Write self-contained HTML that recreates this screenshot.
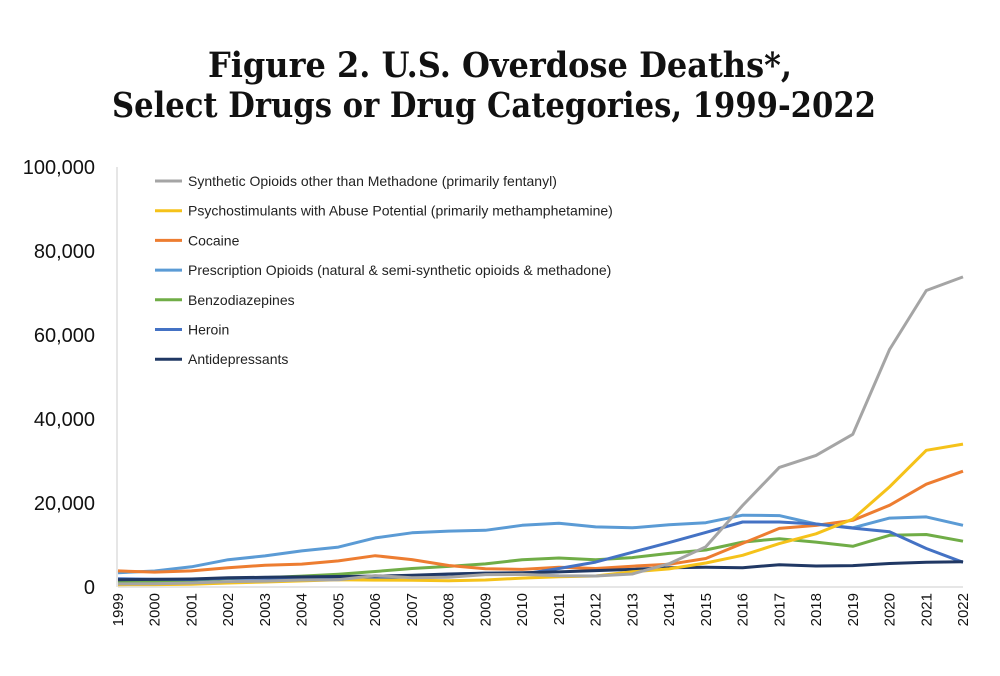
<!DOCTYPE html>
<html><head><meta charset="utf-8"><style>body{margin:0;background:#fff}svg{display:block}</style></head>
<body>
<svg id="chart" width="1000" height="676" viewBox="0 0 1000 676" xmlns="http://www.w3.org/2000/svg">
<text x="500" y="77" text-anchor="middle" font-family="DejaVu Serif, Liberation Serif, serif" font-weight="bold" font-size="35" textLength="584" lengthAdjust="spacingAndGlyphs" fill="#111">Figure 2. U.S. Overdose Deaths*,</text>
<text x="494" y="117" text-anchor="middle" font-family="DejaVu Serif, Liberation Serif, serif" font-weight="bold" font-size="35" textLength="764" lengthAdjust="spacingAndGlyphs" fill="#111">Select Drugs or Drug Categories, 1999-2022</text>
<g id="axes"></g><g id="lines"></g><g id="legend"></g>
</svg>
<script>
const years=[1999,2000,2001,2002,2003,2004,2005,2006,2007,2008,2009,2010,2011,2012,2013,2014,2015,2016,2017,2018,2019,2020,2021,2022];
const yTicks=[0,20000,40000,60000,80000,100000];
const synthetic=[730,782,957,1295,1400,1664,1742,2707,2213,2306,2946,3007,2666,2628,3105,5544,9580,19413,28466,31335,36359,56516,70601,73838];
const psycho=[547,578,637,946,1197,1451,1732,1645,1604,1476,1665,2112,2420,2628,3627,4298,5716,7542,10333,12676,16167,23837,32537,34022];
const cocaine=[3822,3544,3833,4599,5199,5443,6208,7448,6512,5129,4350,4183,4681,4404,4944,5415,6784,10375,13942,14666,15883,19447,24486,27569];
const rxOpioids=[3400,3800,4800,6500,7400,8600,9500,11700,12900,13300,13500,14700,15200,14300,14100,14800,15300,17100,17000,15000,14100,16400,16700,14700];
const benzo=[1135,1298,1594,2004,2248,2585,3052,3700,4400,4900,5500,6500,6900,6500,7000,8000,8800,10700,11500,10700,9700,12300,12500,10900];
const heroin=[1960,1842,1779,2089,2080,1878,2009,2088,2399,3041,3278,3036,4397,5925,8257,10574,12989,15469,15482,14996,14019,13165,9173,5871];
const antidep=[1749,1800,1900,2200,2300,2400,2500,2600,2800,3100,3300,3400,3600,3900,4200,4600,4700,4600,5300,5000,5100,5600,5900,6000];
const seriesNames=["Synthetic Opioids other than Methadone (primarily fentanyl)","Psychostimulants with Abuse Potential (primarily methamphetamine)","Cocaine","Prescription Opioids (natural & semi-synthetic opioids & methadone)","Benzodiazepines","Heroin","Antidepressants"];
const NS="http://www.w3.org/2000/svg";
const x0=118,x1=963,yb=587,yt=167;
function xs(i){return x0+(x1-x0)*i/(years.length-1);}
function ys(v){return yb-(yb-yt)*v/100000;}
function mk(t,a,p){const e=document.createElementNS(NS,t);for(const k in a)e.setAttribute(k,a[k]);p.appendChild(e);return e;}
const ax=document.getElementById('axes');
const yl=mk('line',{x1:x0-1,x2:x0-1,y1:yt,y2:yb,stroke:'#ddd','stroke-width':1.5},ax);


const xl=mk('line',{x1:x0,x2:x1,y1:yb,y2:yb,stroke:'#ddd','stroke-width':1.5},ax);


yTicks.forEach(v=>{const t=mk('text',{x:95,y:ys(v)+7,'text-anchor':'end','font-family':'Liberation Sans, sans-serif','font-size':20,fill:'#111'},ax);t.textContent=v.toLocaleString('en-US');

});
years.forEach((y,i)=>{const t=mk('text',{transform:`translate(${xs(i)+5},593) rotate(-90)`,'text-anchor':'end','font-family':'Liberation Sans, sans-serif','font-size':15,fill:'#111'},ax);t.textContent=y;

});
const data=[synthetic,psycho,cocaine,rxOpioids,benzo,heroin,antidep];
const colors=['#a5a5a5','#f5c21a','#ed7d31','#5b9bd5','#70ad47','#4472c4','#203864'];
const ids=['synthetic-opioids','psychostimulants','cocaine','prescription-opioids','benzodiazepines','heroin','antidepressants'];
const lg=document.getElementById('lines');
[3,4,2,5,6,1,0].forEach(k=>{const d=data[k].map((v,i)=>(i?'L':'M')+xs(i).toFixed(1)+','+ys(v).toFixed(1)).join('');
const p=mk('path',{d:d,fill:'none',stroke:colors[k],'stroke-width':3,'stroke-linejoin':'round'},lg);

});
const leg=document.getElementById('legend');
seriesNames.forEach((n,k)=>{const y=181+k*29.7;
const g=mk('g',{},leg);


mk('line',{x1:155,x2:182,y1:y,y2:y,stroke:colors[k],'stroke-width':3},g);
const t=mk('text',{x:188,y:y+5,'font-family':'Liberation Sans, sans-serif','font-size':14,fill:'#222'},g);t.textContent=n;});
</script>
</body></html>
